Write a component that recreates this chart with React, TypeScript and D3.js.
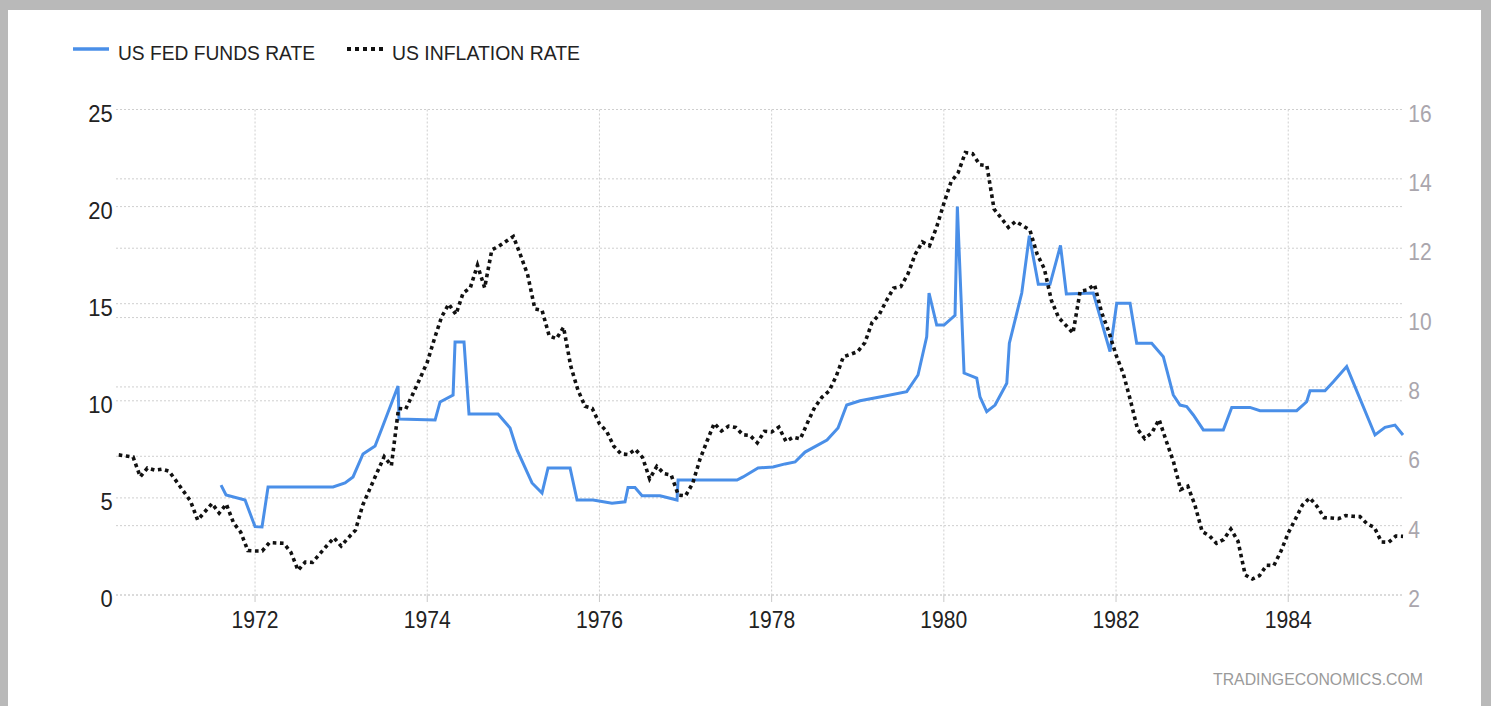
import React from "react";
import * as d3 from "d3";

// ---------- DATA ----------
// US inflation rate (YoY %, monthly, dated at month end), May 1970 .. Apr 1985
const inflationFirstYear = 1970;
const inflationFirstMonth = 5;
const inflationValues: number[] = [
  // 1970 May-Dec
  6.04, 6.01, 5.98, 5.41, 5.66, 5.6, 5.63, 5.57,
  // 1971
  5.29, 5.0, 4.71, 4.16, 4.4, 4.64, 4.36, 4.62, 4.08, 3.81, 3.28, 3.27,
  // 1972
  3.27, 3.51, 3.5, 3.49, 3.23, 2.71, 2.95, 2.94, 3.18, 3.42, 3.65, 3.41,
  // 1973
  3.65, 3.87, 4.59, 5.06, 5.53, 5.99, 5.73, 7.38, 7.36, 7.8, 8.25, 8.71,
  // 1974
  9.39, 10.02, 10.39, 10.09, 10.71, 10.86, 11.51, 10.86, 11.95, 12.06, 12.2, 12.34,
  // 1975
  11.8, 11.23, 10.25, 10.21, 9.47, 9.39, 9.72, 8.6, 7.91, 7.44, 7.38, 6.94,
  // 1976
  6.72, 6.29, 6.07, 6.05, 6.2, 5.97, 5.35, 5.71, 5.5, 5.46, 4.88, 4.86,
  // 1977
  5.22, 5.91, 6.44, 6.95, 6.73, 6.87, 6.83, 6.62, 6.6, 6.39, 6.72, 6.7,
  // 1978
  6.84, 6.43, 6.55, 6.5, 6.97, 7.41, 7.7, 7.88, 8.31, 8.87, 8.94, 9.02,
  // 1979
  9.28, 9.86, 10.09, 10.49, 10.85, 10.89, 11.26, 11.82, 12.18, 12.07, 12.61, 13.29,
  // 1980
  13.91, 14.18, 14.76, 14.73, 14.41, 14.38, 13.13, 12.87, 12.6, 12.77, 12.65, 12.52,
  // 1981
  11.83, 11.41, 10.49, 10.0, 9.78, 9.55, 10.76, 10.8, 10.95, 10.14, 9.59, 8.92,
  // 1982
  8.39, 7.62, 6.78, 6.51, 6.68, 7.06, 6.44, 5.85, 5.04, 5.14, 4.59, 3.83,
  // 1983
  3.71, 3.49, 3.6, 3.9, 3.55, 2.58, 2.46, 2.56, 2.86, 2.85, 3.27, 3.79,
  // 1984
  4.19, 4.6, 4.8, 4.56, 4.23, 4.22, 4.2, 4.29, 4.27, 4.26, 4.05, 3.95,
  // 1985 Jan-Apr
  3.53, 3.52, 3.7, 3.69,
];

// US fed funds rate (%), points at decimal-year dates
const fedFundsDates: number[] = [
  1971.605, 1971.663, 1971.884, 1972.0, 1972.081, 1972.151, 1972.906, 1973.045, 1973.138,
  1973.254, 1973.394, 1973.475, 1973.661, 1973.672, 1974.091, 1974.149, 1974.3, 1974.323,
  1974.427, 1974.485, 1974.822, 1974.962, 1975.043, 1975.217, 1975.333, 1975.403, 1975.659,
  1975.74, 1975.926, 1976.146, 1976.297, 1976.332, 1976.413, 1976.495, 1976.704, 1976.901,
  1976.913, 1977.598, 1977.668, 1977.842, 1978.016, 1978.156, 1978.272, 1978.388, 1978.643,
  1978.771, 1978.872, 1979.027, 1979.317, 1979.569, 1979.7, 1979.801, 1979.828, 1979.917,
  1980.002, 1980.13, 1980.157, 1980.235, 1980.382, 1980.42, 1980.498, 1980.595, 1980.731,
  1980.761, 1980.905, 1980.993, 1981.097, 1981.233, 1981.355, 1981.423, 1981.736, 1981.93,
  1982.008, 1982.163, 1982.24, 1982.414, 1982.549, 1982.665, 1982.743, 1982.821, 1982.898,
  1983.014, 1983.246, 1983.344, 1983.556, 1983.672, 1984.098, 1984.214, 1984.253, 1984.427,
  1984.524, 1984.679, 1984.775, 1985.008, 1985.124, 1985.24, 1985.333,
];
const fedFundsValues: number[] = [
  5.66, 5.15, 4.89, 3.52, 3.5, 5.56, 5.56, 5.77, 6.08,
  7.26, 7.67, 8.6, 10.76, 9.06, 9.01, 9.94, 10.3, 13.03,
  13.03, 9.32, 9.32, 8.6, 7.47, 5.77, 5.25, 6.54, 6.54,
  4.89, 4.89, 4.72, 4.8, 5.54, 5.54, 5.11, 5.11, 4.89,
  5.92, 5.92, 6.08, 6.54, 6.59, 6.75, 6.85, 7.36, 7.98,
  8.6, 9.78, 10.0, 10.25, 10.47, 11.33, 13.3, 15.55, 13.9,
  13.9, 14.4, 20.0, 11.43, 11.17, 10.2, 9.44, 9.78, 10.9,
  12.97, 15.55, 18.5, 16.0, 16.0, 18.0, 15.5, 15.55, 12.53,
  15.02, 15.02, 12.96, 12.96, 12.27, 10.3, 9.78, 9.7, 9.27,
  8.5, 8.5, 9.66, 9.66, 9.49, 9.49, 9.95, 10.52, 10.52,
  10.98, 11.76, 10.73, 8.24, 8.63, 8.75, 8.24,
];

const yearTicks: number[] = [1972, 1974, 1976, 1978, 1980, 1982, 1984];
const leftTicks: number[] = [0, 5, 10, 15, 20, 25];
const rightTicks: number[] = [2, 4, 6, 8, 10, 12, 14, 16];
const seriesNames: string[] = ["US FED FUNDS RATE", "US INFLATION RATE"];
const watermark = "TRADINGECONOMICS.COM";

// ---------- STYLE / LAYOUT ----------
const W = 1491;
const H = 706;
const plot = { left: 116, right: 1403, top: 109.5, bottom: 595 };
const FONT = "'Liberation Sans', Arial, sans-serif";
const BLUE = "#4a8fe8";
const GRID = "#cfcfcf";

type Pt = { date: number; value: number };

export default function App() {
  const x = d3.scaleLinear().domain([1970.385, 1985.333]).range([plot.left, plot.right]);
  const yL = d3.scaleLinear().domain([0, 25]).range([plot.bottom, plot.top]);
  const yR = d3.scaleLinear().domain([2, 16]).range([plot.bottom, plot.top]);

  const inflation: Pt[] = inflationValues.map((v, i) => ({
    date: inflationFirstYear + (inflationFirstMonth + i) / 12,
    value: v,
  }));
  const ffr: Pt[] = fedFundsDates.map((d, i) => ({ date: d, value: fedFundsValues[i] }));

  const lineL = d3.line<Pt>().x((d) => x(d.date)).y((d) => yL(d.value));
  const lineR = d3.line<Pt>().x((d) => x(d.date)).y((d) => yR(d.value));

  return (
    <div style={{ position: "fixed", left: 0, top: 0, width: W, height: H }}>
      <svg width={W} height={H} style={{ display: "block" }}>
        <rect x={0} y={0} width={W} height={H} fill="#b9b9b9" />
        <rect x={8} y={10} width={1473} height={H - 10} fill="#ffffff" />

        {/* legend */}
        <line x1={73} x2={109} y1={49} y2={49} stroke={BLUE} strokeWidth={3.5} />
        <text x={118} y={60} fontFamily={FONT} fontSize={21} fill="#222"
          textLength={197} lengthAdjust="spacingAndGlyphs">{seriesNames[0]}</text>
        <line x1={347} x2={383} y1={49} y2={49} stroke="#111" strokeWidth={4} strokeDasharray="4,4" />
        <text x={392} y={60} fontFamily={FONT} fontSize={21} fill="#222"
          textLength={188} lengthAdjust="spacingAndGlyphs">{seriesNames[1]}</text>

        {/* horizontal gridlines */}
        {leftTicks.map((t) => (
          <line key={"gl" + t} x1={plot.left} x2={plot.right} y1={yL(t)} y2={yL(t)}
            stroke={GRID} strokeWidth={1} strokeDasharray="2,2" />
        ))}
        {rightTicks.map((t) => (
          <line key={"gr" + t} x1={plot.left} x2={plot.right} y1={yR(t)} y2={yR(t)}
            stroke={GRID} strokeWidth={1} strokeDasharray="2,2" />
        ))}
        {/* vertical gridlines + ticks */}
        {yearTicks.map((t) => (
          <g key={"v" + t}>
            <line x1={x(t)} x2={x(t)} y1={plot.top} y2={plot.bottom}
              stroke={GRID} strokeWidth={1} strokeDasharray="2,2" />
            <line x1={x(t)} x2={x(t)} y1={plot.bottom} y2={plot.bottom + 7}
              stroke="#c8c8c8" strokeWidth={1} />
          </g>
        ))}

        {/* left axis labels */}
        {leftTicks.map((t) => (
          <text key={"ll" + t} x={112.7} y={yL(t) + 12.2} textAnchor="end" fontFamily={FONT}
            fontSize={24} fill="#222" textLength={String(t).length * 12.2}
            lengthAdjust="spacingAndGlyphs">{t}</text>
        ))}
        {/* right axis labels */}
        {rightTicks.map((t) => (
          <text key={"rl" + t} x={1408.3} y={yR(t) + 12.2} fontFamily={FONT}
            fontSize={24} fill="#aaa6ad" textLength={String(t).length * 11.7}
            lengthAdjust="spacingAndGlyphs">{t}</text>
        ))}
        {/* x axis labels */}
        {yearTicks.map((t) => (
          <text key={"xl" + t} x={x(t)} y={628} textAnchor="middle" fontFamily={FONT}
            fontSize={24} fill="#222" textLength={47} lengthAdjust="spacingAndGlyphs">{t}</text>
        ))}

        {/* series */}
        <path d={lineL(ffr) || ""} fill="none" stroke={BLUE} strokeWidth={3} />
        <path d={lineR(inflation) || ""} fill="none" stroke="#111" strokeWidth={3.6}
          strokeDasharray="3.6,3.6" />

        {/* watermark */}
        <text x={1213} y={685} fontFamily={FONT} fontSize={16} fill="#9a9a9a"
          textLength={210} lengthAdjust="spacingAndGlyphs">{watermark}</text>
      </svg>
    </div>
  );
}
